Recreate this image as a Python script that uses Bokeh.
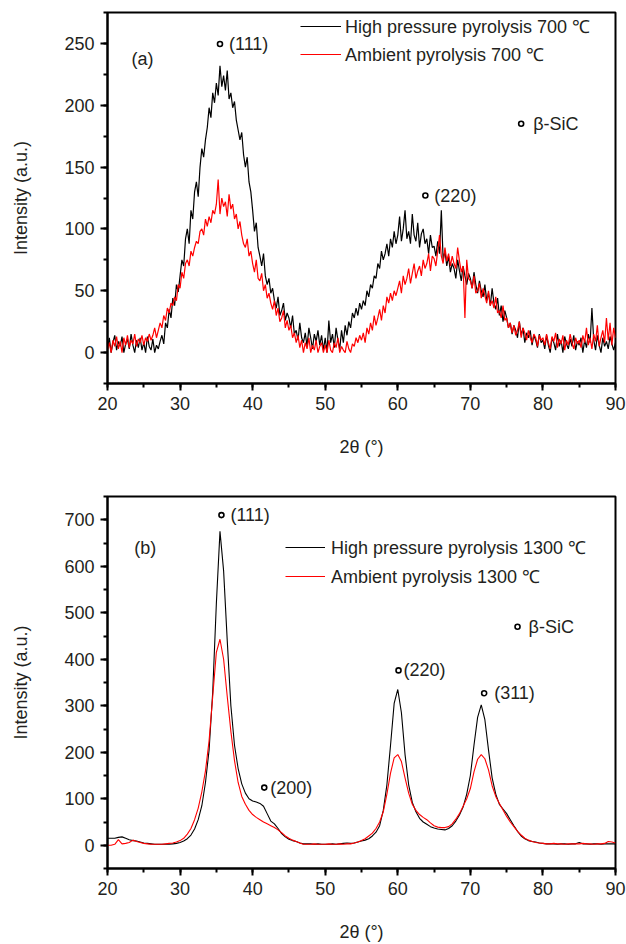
import numpy as np
from bokeh.plotting import figure
from bokeh.models import Range1d, SingleIntervalTicker, Legend, LegendItem, ColumnDataSource
from bokeh.layouts import column
from bokeh.embed import file_html
from bokeh.resources import INLINE
from bokeh.core.properties import value

# ---------------- data: panel (a), 700 C, step 0.25 deg ----------------
two_theta_a = np.arange(20.0, 90.001, 0.25)
high_700 = [
    3, 12, 0, 8, 14, 2, 9, 5, 13, 0, 7, 11, 3, 15, 6, 0, 10, 4, 12, 2,
    8, 0, 13, 5, 2, 11, 0, 6, 3, 9, 14, 7, 24, 20, 35, 28, 44, 38, 55, 49,
    62, 75, 70, 92, 100, 88, 115, 108, 130, 138, 126, 150, 165, 158, 172, 182, 198, 190, 210, 202,
    218, 208, 232, 215, 224, 212, 228, 205, 210, 198, 203, 188, 180, 172, 178, 160, 150, 158, 138, 130,
    115, 98, 105, 85, 78, 70, 80, 62, 55, 60, 48, 52, 42, 36, 45, 30, 34, 40, 26, 32,
    28, 20, 30, 15, 18, 10, 24, 12, 8, 16, 5, 20, 12, 3, 15, 9, 18, 6, 14, 2,
    12, 0, 26, 8, 15, 4, 20, 10, 3, 18, 8, 22, 14, 25, 20, 32, 28, 36, 30, 40,
    35, 42, 38, 50, 45, 55, 52, 62, 60, 72, 68, 82, 75, 80, 88, 78, 92, 85, 98, 88,
    95, 110, 90, 100, 115, 92, 98, 88, 112, 95, 90, 105, 85, 96, 100, 88, 92, 80, 95, 85,
    86, 78, 90, 80, 115, 75, 82, 70, 78, 65, 72, 68, 60, 75, 66, 58, 70, 62, 55, 64,
    60, 52, 65, 55, 48, 58, 50, 45, 55, 42, 48, 38, 52, 40, 35, 44, 30, 38, 25, 34,
    28, 20, 24, 15, 22, 18, 12, 25, 14, 20, 8, 16, 12, 18, 6, 14, 10, 4, 15, 8,
    10, 3, 14, 6, 0, 12, 8, 2, 15, 5, 10, 0, 13, 7, 3, 11, 5, 14, 2, 9,
    6, 12, 0, 10, 4, 15, 8, 36, 10, 2, 14, 6, 0, 12, 5, 9, 3, 13, 7, 2,
    8,
]
ambient_700 = [
    2, 8, 0, 10, 5, 13, 3, 9, 0, 12, 6, 14, 4, 10, 7, 15, 5, 11, 8, 14,
    6, 12, 9, 15, 10, 14, 20, 12, 18, 24, 20, 30, 26, 36, 32, 40, 38, 45, 42, 55,
    52, 65, 60, 72, 75, 70, 82, 78, 85, 90, 88, 98, 100, 95, 108, 102, 110, 105, 115, 112,
    120, 140, 112, 125, 118, 122, 110, 128, 116, 120, 108, 112, 100, 106, 95, 88, 85, 92, 78, 82,
    72, 65, 75, 60, 58, 64, 50, 55, 44, 48, 40, 35, 42, 30, 36, 25, 28, 34, 20, 26,
    18, 22, 12, 16, 8, 14, 4, 10, 0, 8, 3, 12, 0, 6, 2, 10, 0, 5, 8, 0,
    6, 0, 10, 2, 0, 8, 4, 12, 0, 5, 2, 0, 9, 3, 0, 7, 5, 12, 8, 14,
    10, 16, 8, 20, 15, 24, 18, 30, 22, 28, 35, 26, 38, 32, 45, 40, 48, 42, 50, 46,
    52, 58, 48, 62, 55, 60, 68, 56, 64, 72, 60, 66, 70, 62, 75, 68, 72, 80, 66, 78,
    76, 70, 82, 95, 78, 72, 85, 74, 80, 70, 78, 72, 68, 85, 74, 65, 70, 28, 75, 60,
    58, 52, 62, 48, 50, 56, 44, 52, 46, 40, 50, 38, 42, 36, 45, 32, 34, 28, 38, 26,
    28, 20, 24, 16, 22, 14, 18, 25, 12, 20, 16, 10, 18, 12, 8, 15, 12, 5, 14, 10,
    12, 6, 15, 8, 3, 13, 9, 16, 4, 11, 7, 14, 2, 10, 6, 15, 8, 3, 12, 7,
    10, 4, 14, 8, 20, 6, 12, 3, 15, 9, 22, 5, 12, 18, 8, 28, 10, 24, 6, 20,
    12,
]

# ---------------- data: panel (b), 1300 C, step 0.5 deg ----------------
two_theta_b = np.arange(20.0, 90.001, 0.5)
high_1300 = [
    15, 15, 15, 17, 18, 15, 12, 10, 9, 7,
    5, 4, 3, 2, 2, 2, 2, 2, 3, 4,
    6, 9, 14, 22, 35, 55, 85, 135, 205, 330,
    520, 675, 590, 440, 300, 215, 165, 132, 112, 100,
    95, 93, 90, 84, 68, 52, 46, 36, 25, 18,
    13, 10, 8, 5, 3, 3, 3, 2, 3, 2,
    2, 2, 3, 2, 3, 4, 5, 4, 5, 7,
    9, 11, 14, 20, 28, 42, 75, 130, 215, 305,
    335, 285, 195, 130, 92, 72, 58, 50, 45, 40,
    37, 35, 34, 33, 36, 42, 52, 65, 82, 110,
    150, 215, 275, 302, 270, 205, 145, 110, 88, 78,
    68, 55, 42, 30, 20, 14, 10, 8, 7, 5,
    4, 3, 3, 3, 2, 3, 3, 2, 3, 3,
    6, 3, 3, 2, 3, 3, 2, 3, 3, 3,
    3,
]
ambient_1300 = [
    0, 0, 2, 12, 3, 4, 6, 11, 8, 6,
    4, 3, 2, 2, 2, 2, 3, 4, 5, 7,
    10, 15, 24, 36, 55, 80, 115, 160, 225, 320,
    415, 443, 400, 320, 245, 182, 135, 105, 88, 75,
    66, 60, 55, 50, 46, 42, 38, 33, 27, 20,
    15, 11, 8, 5, 2, 2, 2, 3, 2, 2,
    2, 3, 2, 2, 3, 2, 3, 3, 5, 7,
    10, 14, 20, 26, 36, 50, 72, 110, 155, 188,
    195, 180, 145, 112, 88, 75, 66, 60, 55, 48,
    42, 39, 38, 38, 40, 46, 56, 68, 84, 100,
    122, 158, 185, 195, 186, 162, 128, 105, 90, 76,
    62, 50, 40, 30, 22, 15, 11, 8, 6, 5,
    4, 3, 3, 4, 3, 3, 2, 3, 3, 3,
    3, 4, 3, 3, 2, 3, 3, 4, 8, 7,
    5,
]

# ---------------- annotations ----------------
peaks_a_x = [35.5, 63.8, 77.0]
peaks_a_y = [249.5, 127, 185]
peaks_a_lbl = ["(111)", "(220)", "β-SiC"]
peaks_a_dx = [9, 9, 12]

peaks_b_x = [35.7, 41.6, 60.1, 71.9, 76.5]
peaks_b_y = [710, 124, 376, 327, 470]
peaks_b_lbl = ["(111)", "(200)", "(220)", "(311)", "β-SiC"]
peaks_b_dx = [9, 6, 5, 10, 11]

FONT = "Liberation Sans"
TXT = "#231f20"
FS = "18px"


def make_fig(height, b_top, b_bottom, y0, y1, yint, xstand):
    p = figure(width=626, height=height, output_backend="svg", toolbar_location=None,
               x_range=Range1d(20, 90), y_range=Range1d(y0, y1))
    p.min_border_left = 107
    p.min_border_right = 11
    p.min_border_top = b_top
    p.min_border_bottom = b_bottom
    p.xgrid.visible = False
    p.ygrid.visible = False
    p.outline_line_color = "black"
    p.outline_line_width = 2
    p.xaxis.ticker = SingleIntervalTicker(interval=10, num_minor_ticks=2)
    p.yaxis.ticker = SingleIntervalTicker(interval=yint, num_minor_ticks=2)
    for ax in p.axis:
        ax.axis_line_width = 2
        ax.axis_line_color = "black"
        ax.major_tick_line_width = 2
        ax.minor_tick_line_width = 2
        ax.major_tick_out = 7
        ax.major_tick_in = 0
        ax.minor_tick_out = 4
        ax.minor_tick_in = 0
        ax.major_label_text_font = FONT
        ax.major_label_text_font_size = FS
        ax.major_label_text_color = TXT
        ax.axis_label_text_font = FONT
        ax.axis_label_text_font_size = FS
        ax.axis_label_text_font_style = "normal"
        ax.axis_label_text_color = TXT
        ax.major_label_standoff = 6
    p.yaxis.axis_label = "Intensity (a.u.)"
    p.yaxis.axis_label_standoff = 30
    p.xaxis.axis_label = "2θ (°)"
    p.xaxis.axis_label_standoff = xstand
    return p


def add_annotations(p, xs, ys, lbls, dxs, letter, lx, ly):
    src = ColumnDataSource(dict(x=xs, y=ys, t=lbls, dx=dxs))
    p.scatter("x", "y", source=src, marker="circle", size=5, fill_color="white",
              line_color="black", line_width=1.6)
    p.text("x", "y", text="t", x_offset="dx", source=src, text_font=value(FONT),
           text_font_size=FS, text_color=TXT, text_baseline="middle", text_align="left")
    p.text(x=[lx], y=[ly], text=[letter], text_font=value(FONT), text_font_size=FS,
           text_color=TXT, text_baseline="middle", text_align="left")


# ---------------- panel (a) ----------------
pa = make_fig(470, 12, 87, -25, 275, 50, 24)
ra1 = pa.line(two_theta_a, high_700, line_color="black", line_width=1.2)
ra2 = pa.line(two_theta_a, ambient_700, line_color="#ff0000", line_width=1.2)
add_annotations(pa, peaks_a_x, peaks_a_y, peaks_a_lbl, peaks_a_dx, "(a)", 23.3, 237)
leg_a = Legend(items=[LegendItem(label="High pressure pyrolysis 700 ℃", renderers=[ra1]),
                      LegendItem(label="Ambient pyrolysis 700 ℃", renderers=[ra2])],
               location=(193, 317), orientation="vertical", border_line_color=None,
               background_fill_alpha=0, padding=0, margin=0, spacing=4,
               glyph_width=41, glyph_height=20, label_height=20, label_standoff=4,
               label_text_font=FONT, label_text_font_size=FS, label_text_color=TXT)
pa.add_layout(leg_a)

# ---------------- panel (b) ----------------
pb = make_fig(474, 26, 75, -50, 750, 100, 24)
rb1 = pb.line(two_theta_b, high_1300, line_color="black", line_width=1.1)
rb2 = pb.line(two_theta_b, ambient_1300, line_color="#ff0000", line_width=1.1)
add_annotations(pb, peaks_b_x, peaks_b_y, peaks_b_lbl, peaks_b_dx, "(b)", 23.7, 639)
leg_b = Legend(items=[LegendItem(label="High pressure pyrolysis 1300 ℃", renderers=[rb1]),
                      LegendItem(label="Ambient pyrolysis 1300 ℃", renderers=[rb2])],
               location=(178, 280), orientation="vertical", border_line_color=None,
               background_fill_alpha=0, padding=0, margin=0, spacing=5,
               glyph_width=40, glyph_height=22, label_height=22, label_standoff=6,
               label_text_font=FONT, label_text_font_size=FS, label_text_color=TXT)
pb.add_layout(leg_b)

layout = column(pa, pb)
open("out.html", "w").write(file_html(layout, INLINE))
